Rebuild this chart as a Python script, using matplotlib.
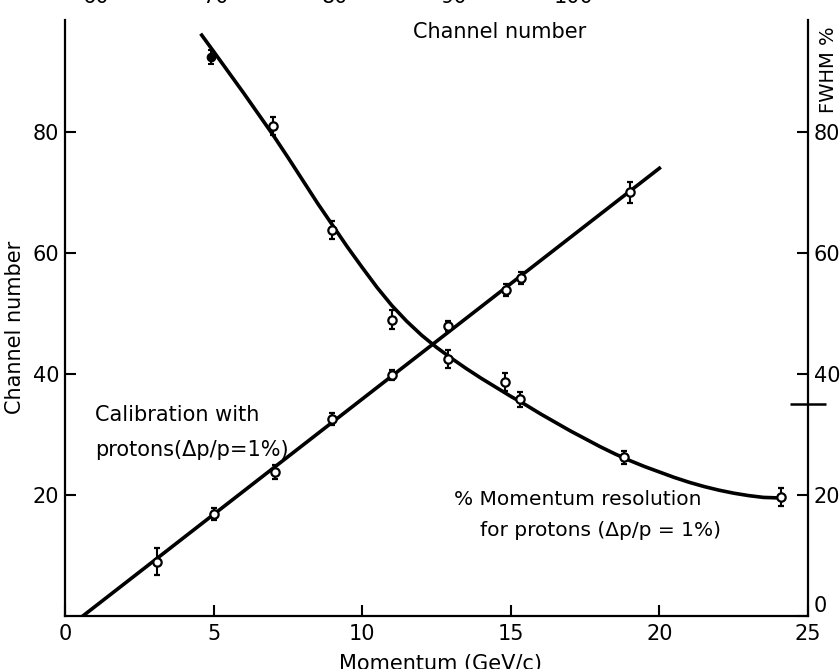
import numpy as np
import matplotlib
matplotlib.use("Agg")
import matplotlib.pyplot as plt

# calibration with protons: channel number vs momentum
cal_p = [3.1, 5.0, 7.05, 9.0, 11.0, 12.9, 14.85, 15.35, 19.0]
cal_ch = [9.0, 16.8, 23.8, 32.5, 39.8, 47.9, 53.9, 55.9, 70.0]
cal_err = [2.2, 1.0, 1.2, 1.0, 0.8, 0.8, 1.0, 1.0, 1.8]
cal_line_p = [0.6, 20.0]
cal_line_ch = [0.0, 74.0]

# momentum resolution (FWHM %) for protons
res_p = [4.9, 7.0, 9.0, 11.0, 12.9, 14.8, 15.3, 18.8, 24.1]
res_fwhm = [92.4, 81.0, 63.8, 49.0, 42.5, 38.7, 35.8, 26.2, 19.7]
res_err = [1.2, 1.5, 1.5, 1.5, 1.5, 1.5, 1.3, 1.0, 1.5]
# hand drawn curve through the resolution points
res_curve_p = [4.6, 5.0, 5.5, 6.0, 6.5, 7.0, 7.5, 8.0, 8.5, 9.0, 9.5, 10.0,
               10.5, 11.0, 11.5, 12.0, 12.5, 13.0, 13.5, 14.0, 14.5, 15.0,
               15.5, 16.0, 16.5, 17.0, 17.5, 18.0, 18.5, 19.0, 19.5, 20.0,
               20.5, 21.0, 21.5, 22.0, 22.5, 23.0, 23.5, 24.1]
res_curve_fwhm = [96.0, 93.3, 89.9, 86.5, 83.0, 79.5, 75.8, 72.0, 68.2, 64.6,
                  61.0, 57.6, 54.3, 51.3, 48.7, 46.4, 44.4, 42.6, 40.9, 39.3,
                  37.8, 36.3, 34.9, 33.4, 32.0, 30.6, 29.3, 28.0, 26.8, 25.7,
                  24.7, 23.8, 22.9, 22.1, 21.4, 20.8, 20.3, 19.9, 19.6, 19.5]

left_ticks = [20, 40, 60, 80]
right_ticks = [0, 20, 40, 60, 80]
mom_ticks = [0, 5, 10, 15, 20, 25]
chan_ticks = [60, 70, 80, 90, 100]

plt.rcParams['font.family'] = ['DejaVu Sans']
fs = 15

fig = plt.figure(figsize=(8.4, 6.69), dpi=100)
ax = fig.add_axes([65/840, 53/669, 743/840, 596/669])

ax.plot(cal_line_p, cal_line_ch, color='black', lw=2.6, zorder=2)
ax.errorbar(cal_p, cal_ch, yerr=cal_err, fmt='o', ms=6, mfc='white', mec='black',
            mew=1.6, ecolor='black', elinewidth=1.5, capsize=2.5, capthick=1.5, zorder=3)

ax.set_xlim(0, 25)
ax.set_ylim(0, 98.5)
ax.set_xticks(mom_ticks)
ax.set_yticks(left_ticks)
ax.tick_params(direction='in', length=8, width=1.5, labelsize=fs, pad=4)
ax.tick_params(axis='x', pad=6)
for s in ['top', 'right']:
    ax.spines[s].set_visible(False)
for s in ['left', 'bottom']:
    ax.spines[s].set_linewidth(1.6)

ax.set_ylabel('Channel number', fontsize=fs)
ax.yaxis.set_label_coords(-0.054, 0.485)
ax.set_xlabel('Momentum (GeV/c)', fontsize=fs)
ax.xaxis.set_label_coords(0.505, -0.064)

# right hand scale: resolution
ax2 = ax.twinx()
ax2.plot(res_curve_p, res_curve_fwhm, color='black', lw=2.6, zorder=2)
ax2.errorbar(res_p[1:], res_fwhm[1:], yerr=res_err[1:], fmt='o', ms=6, mfc='white',
             mec='black', mew=1.6, ecolor='black', elinewidth=1.5, capsize=2.5,
             capthick=1.5, zorder=3)
ax2.errorbar(res_p[:1], res_fwhm[:1], yerr=res_err[:1], fmt='o', ms=6, mfc='black',
             mec='black', ecolor='black', elinewidth=1.5, capsize=2.5, capthick=1.5, zorder=3)
ax2.set_ylim(0, 98.5)
ax2.set_yticks(right_ticks)
ax2.set_yticks([35], minor=True)
ax2.tick_params(direction='in', length=8, width=1.5, labelsize=fs, pad=4)
ax2.tick_params(which='minor', direction='inout', length=26, width=1.8)
for s in ['top', 'left', 'bottom']:
    ax2.spines[s].set_visible(False)
ax2.spines['right'].set_linewidth(1.6)
# zero label sits just above the corner, clear of the "25"
ax2.get_yticklabels()[0].set_verticalalignment('bottom')
ax2.text(1.027, 0.99, 'FWHM %', transform=ax2.transAxes, rotation=90,
         ha='center', va='top', fontsize=fs - 1)

# channel number scale along the top
ax3 = ax.twiny()
ax3.set_xlim(57.4, 119.6)
ax3.set_xticks(chan_ticks)
ax3.tick_params(length=0, labelsize=fs, pad=9)
for s in ax3.spines.values():
    s.set_visible(False)
ax3.text(0.585, 0.98, 'Channel number', transform=ax3.transAxes,
         ha='center', va='center', fontsize=fs)

ax.text(1.0, 33.2, 'Calibration with', fontsize=fs, va='center', ha='left')
ax.text(1.0, 27.4, 'protons(\u0394p/p=1%)', fontsize=fs, va='center', ha='left')
ax.text(13.1, 19.3, '% Momentum resolution', fontsize=fs - 0.5, va='center', ha='left')
ax.text(13.95, 14.2, 'for protons (\u0394p/p = 1%)', fontsize=fs - 0.5, va='center', ha='left')

fig.savefig('out.png', dpi=100)
